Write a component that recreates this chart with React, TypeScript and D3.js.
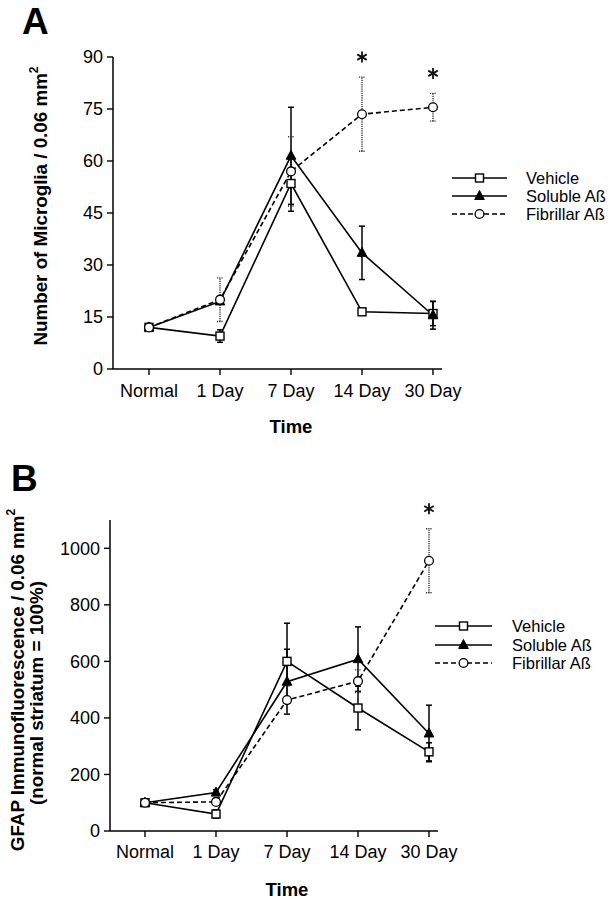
import React from "react";
import * as d3 from "d3";

const categories = ["Normal", "1 Day", "7 Day", "14 Day", "30 Day"];
const seriesNames = ["Vehicle", "Soluble Aß", "Fibrillar Aß"];

// Panel A: number of microglia / 0.06 mm2
const vehicleA = [12, 9.5, 53.5, 16.5, 16];
const vehicleAErr = [0, 1.8, 8, 0, 3.5];
const solubleA = [12, 19.5, 61.5, 33.5, 15.5];
const solubleAErr = [0, 0, 14, 7.7, 4];
const fibrillarA = [12, 20, 57, 73.5, 75.5];
const fibrillarAErr = [0, 6.3, 10, 10.7, 4];
const yTicksA = [0, 15, 30, 45, 60, 75, 90];
const starsA = ["14 Day", "30 Day"];

// Panel B: GFAP immunofluorescence (normal striatum = 100%)
const vehicleB = [100, 60, 600, 435, 280];
const vehicleBErr = [0, 15, 135, 77, 32];
const solubleB = [100, 136, 528, 608, 345];
const solubleBErr = [0, 10, 115, 114, 100];
const fibrillarB = [100, 103, 463, 530, 956];
const fibrillarBErr = [0, 0, 50, 40, 113];
const yTicksB = [0, 200, 400, 600, 800, 1000];
const starsB = ["30 Day"];

const FONT = "'Liberation Sans', Arial, Helvetica, sans-serif";

type Series = { name: string; values: number[]; errs: number[]; kind: "square" | "triangle" | "circle" };

function Marker({ kind, x, y }: { kind: string; x: number; y: number }) {
  if (kind === "square") {
    return <rect x={x - 4} y={y - 4} width={8} height={8} fill="#fff" stroke="#000" strokeWidth={1.4} />;
  }
  if (kind === "triangle") {
    const p = d3.path();
    p.moveTo(x, y - 5.5);
    p.lineTo(x + 4.8, y + 3.5);
    p.lineTo(x - 4.8, y + 3.5);
    p.closePath();
    return <path d={p.toString()} fill="#000" stroke="#000" strokeWidth={1} />;
  }
  return <circle cx={x} cy={y} r={4.4} fill="#fff" stroke="#000" strokeWidth={1.3} />;
}

function Star({ x, y }: { x: number; y: number }) {
  const r = 5.5;
  const angles = [90, 30, 150];
  return (
    <g stroke="#111" strokeWidth={1.8}>
      {angles.map((a) => {
        const rad = (a * Math.PI) / 180;
        return (
          <line
            key={a}
            x1={x - r * Math.cos(rad)}
            y1={y - r * Math.sin(rad)}
            x2={x + r * Math.cos(rad)}
            y2={y + r * Math.sin(rad)}
          />
        );
      })}
    </g>
  );
}

function Panel(props: {
  letter: string;
  letterX: number;
  letterY: number;
  axisX: number;
  axisRight: number;
  xFirst: number;
  xLast: number;
  yZero: number;
  yMaxPx: number;
  yMax: number;
  yTicks: number[];
  series: Series[];
  stars: string[];
  labelLines: { text: string; sup?: boolean; x: number; y: number }[];
  xLabelDy: number;
  timeY: number;
  legendX1: number;
  legendX2: number;
  legendTextX: number;
  legendYs: number[];
}) {
  const x = d3.scalePoint<string>().domain(categories).range([props.xFirst, props.xLast]);
  const y = d3.scaleLinear().domain([0, props.yMax]).range([props.yZero, props.yMaxPx]);
  const line = d3
    .line<number>()
    .x((_, i) => x(categories[i])!)
    .y((d) => y(d));

  const dashFor = (k: string) => (k === "circle" ? "5,3" : undefined);

  return (
    <g fontFamily={FONT}>
      <text x={props.letterX} y={props.letterY} fontSize={37} fontWeight="bold">
        {props.letter}
      </text>
      {/* axes */}
      <line x1={props.axisX} x2={props.axisX} y1={y(props.yMax)} y2={props.yZero} stroke="#000" strokeWidth={1.5} />
      <line x1={props.axisX} x2={props.axisRight} y1={props.yZero} y2={props.yZero} stroke="#000" strokeWidth={1.5} />
      {props.yTicks.map((t) => (
        <g key={t}>
          <line x1={props.axisX - 6} x2={props.axisX} y1={y(t)} y2={y(t)} stroke="#000" strokeWidth={1.4} />
          <text x={props.axisX - 10} y={y(t)} dy="0.36em" textAnchor="end" fontSize={18}>
            {t}
          </text>
        </g>
      ))}
      {categories.map((c) => (
        <g key={c}>
          <line x1={x(c)} x2={x(c)} y1={props.yZero} y2={props.yZero + 6} stroke="#000" strokeWidth={1.4} />
          <text x={x(c)} y={props.yZero + props.xLabelDy} textAnchor="middle" fontSize={18}>
            {c}
          </text>
        </g>
      ))}
      <text x={x("7 Day")} y={props.timeY} textAnchor="middle" fontSize={18.5} fontWeight="bold">
        Time
      </text>
      {props.labelLines.map((l, i) => (
        <text
          key={i}
          transform={`translate(${l.x},${l.y}) rotate(-90)`}
          textAnchor="middle"
          fontSize={18.8}
          fontWeight="bold"
        >
          {l.text}
          {l.sup ? (
            <tspan fontSize={12} dy={-9}>
              2
            </tspan>
          ) : null}
        </text>
      ))}
      {/* lines */}
      {props.series.map((s) => (
        <path
          key={s.name}
          d={line(s.values)!}
          fill="none"
          stroke="#000"
          strokeWidth={1.6}
          strokeDasharray={dashFor(s.kind)}
        />
      ))}
      {/* error bars */}
      {props.series.map((s) =>
        s.values.map((v, i) => {
          const e = s.errs[i];
          if (!e) return null;
          const cx = x(categories[i])!;
          const dotted = s.kind === "circle";
          const st = dotted ? "#333" : "#000";
          const da = dotted ? "1.2,1" : undefined;
          const sw = dotted ? 1.4 : 1.5;
          return (
            <g key={s.name + i} stroke={st} strokeWidth={sw} strokeDasharray={da}>
              <line x1={cx} x2={cx} y1={y(v - e)} y2={y(v + e)} />
              <line x1={cx - 3} x2={cx + 3} y1={y(v - e)} y2={y(v - e)} />
              <line x1={cx - 3} x2={cx + 3} y1={y(v + e)} y2={y(v + e)} />
            </g>
          );
        })
      )}
      {/* markers */}
      {props.series.map((s) =>
        s.values.map((v, i) => <Marker key={s.name + "m" + i} kind={s.kind} x={x(categories[i])!} y={y(v)} />)
      )}
      {/* significance stars */}
      {props.stars.map((c) => {
        const s = props.series[2];
        const i = categories.indexOf(c);
        return <Star key={c} x={x(c)!} y={y(s.values[i] + s.errs[i]) - 20} />;
      })}
      {/* legend */}
      {props.series.map((s, i) => {
        const ly = props.legendYs[i];
        const mx = (props.legendX1 + props.legendX2) / 2;
        return (
          <g key={"lg" + s.name}>
            <line
              x1={props.legendX1}
              x2={props.legendX2}
              y1={ly}
              y2={ly}
              stroke="#000"
              strokeWidth={1.6}
              strokeDasharray={dashFor(s.kind)}
            />
            <Marker kind={s.kind} x={mx} y={ly} />
            <text x={props.legendTextX} y={ly} dy="0.36em" fontSize={16.5}>
              {s.name}
            </text>
          </g>
        );
      })}
    </g>
  );
}

export default function App() {
  const seriesA: Series[] = [
    { name: seriesNames[0], values: vehicleA, errs: vehicleAErr, kind: "square" },
    { name: seriesNames[1], values: solubleA, errs: solubleAErr, kind: "triangle" },
    { name: seriesNames[2], values: fibrillarA, errs: fibrillarAErr, kind: "circle" },
  ];
  const seriesB: Series[] = [
    { name: seriesNames[0], values: vehicleB, errs: vehicleBErr, kind: "square" },
    { name: seriesNames[1], values: solubleB, errs: solubleBErr, kind: "triangle" },
    { name: seriesNames[2], values: fibrillarB, errs: fibrillarBErr, kind: "circle" },
  ];
  return (
    <svg
      width={613}
      height={899}
      style={{ position: "absolute", left: 0, top: 0, background: "#fff" }}
    >
      <rect width={613} height={899} fill="#fff" />
      <Panel
        letter="A"
        letterX={22}
        letterY={34}
        axisX={113}
        axisRight={442}
        xFirst={149}
        xLast={433}
        yZero={369}
        yMaxPx={57}
        yMax={90}
        yTicks={yTicksA}
        series={seriesA}
        stars={starsA}
        labelLines={[{ text: "Number of Microglia / 0.06 mm", sup: true, x: 47, y: 206 }]}
        xLabelDy={28}
        timeY={433}
        legendX1={452}
        legendX2={507}
        legendTextX={526}
        legendYs={[178, 196, 214]}
      />
      <Panel
        letter="B"
        letterX={11}
        letterY={491}
        axisX={110}
        axisRight={438}
        xFirst={145}
        xLast={429}
        yZero={831}
        yMaxPx={548.3 - (831 - 548.3) / 10}
        yMax={1100}
        yTicks={yTicksB}
        series={seriesB}
        stars={starsB}
        labelLines={[
          { text: "GFAP Immunofluorescence / 0.06 mm", sup: true, x: 24, y: 680 },
          { text: "(normal striatum = 100%)", x: 43, y: 693 },
        ]}
        xLabelDy={27}
        timeY={896}
        legendX1={435}
        legendX2={492}
        legendTextX={512}
        legendYs={[626, 645, 663]}
      />
    </svg>
  );
}
